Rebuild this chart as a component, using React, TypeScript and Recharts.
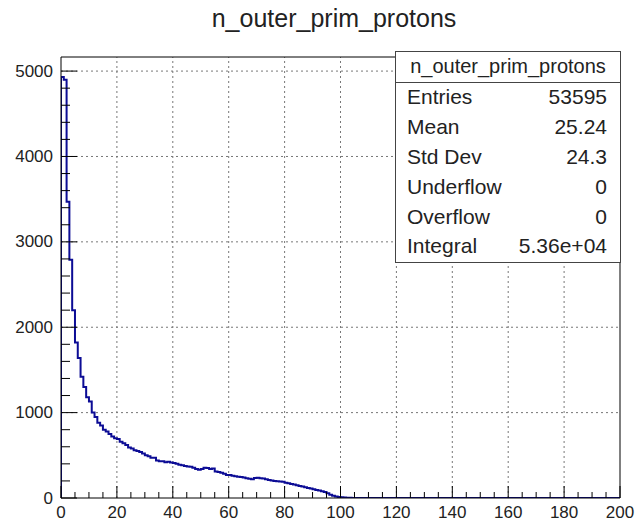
import React from "react";
import {
  ComposedChart,
  Line,
  XAxis,
  YAxis,
  ReferenceLine,
} from "recharts";

// ---- data (histogram bin contents, bin width 1, range 0..200) ----
const HIST_TITLE = "n_outer_prim_protons";
const BIN_LOW = 0;
const BIN_HIGH = 200;
// counts of bins 0..105; remaining bins up to 200 are empty
const binCounts: number[] = [
  4930, 4900, 3470, 2790, 2200, 1820, 1640, 1420, 1300, 1180,
  1130, 1000, 950, 880, 850, 800, 780, 750, 720, 700,
  690, 660, 640, 620, 590, 580, 560, 550, 540, 520,
  500, 490, 470, 470, 440, 430, 430, 420, 425, 415,
  410, 400, 390, 385, 375, 370, 365, 355, 340, 330,
  340, 355, 350, 340, 345, 310, 305, 295, 285, 270,
  268, 262, 255, 250, 245, 240, 232, 225, 220, 235,
  238, 232, 228, 220, 212, 205, 200, 195, 192, 190,
  180, 172, 165, 158, 150, 142, 135, 125, 118, 110,
  102, 95, 88, 78, 70, 55, 38, 25, 18, 12,
  8, 5, 3, 2, 1, 1,
];
const xMajorTicks = [0, 20, 40, 60, 80, 100, 120, 140, 160, 180, 200];
const yMajorTicks = [0, 1000, 2000, 3000, 4000, 5000];
const Y_MAX = 5165;

const statsLabels = ["Entries", "Mean", "Std Dev", "Underflow", "Overflow", "Integral"];
const statsValues = ["53595", "25.24", "24.3", "0", "0", "5.36e+04"];

// ---- build the table the library needs ----
const histData: { x: number; y: number }[] = [{ x: BIN_LOW, y: 0 }];
for (let i = BIN_LOW; i < BIN_HIGH; i++) {
  histData.push({ x: i, y: binCounts[i] ?? 0 });
}
histData.push({ x: BIN_HIGH, y: binCounts[BIN_HIGH - 1] ?? 0 });

const xAllTicks: number[] = [];
for (let v = BIN_LOW; v <= BIN_HIGH; v += 5) xAllTicks.push(v);
const yAllTicks: number[] = [];
for (let v = 0; v <= 5000; v += 200) yAllTicks.push(v);

const FONT = "'Liberation Sans', Arial, Helvetica, sans-serif";
const W = 636;
const H = 523;

const XTick = (props: any) => {
  const { x, y, payload } = props;
  const v = payload.value as number;
  const major = v % 20 === 0;
  return (
    <g>
      <line x1={x} x2={x} y1={y} y2={y - (major ? 12 : 6)} stroke="#000" strokeWidth={1} />
      {major && (
        <text
          x={x}
          y={y + 14}
          textAnchor="middle"
          dominantBaseline="central"
          fontSize={17}
          fontFamily={FONT}
          fill="#222"
        >
          {v}
        </text>
      )}
    </g>
  );
};

const YTick = (props: any) => {
  const { x, y, payload } = props;
  const v = payload.value as number;
  const major = v % 1000 === 0;
  return (
    <g>
      <line x1={x} x2={x + (major ? 16 : 9)} y1={y} y2={y} stroke="#000" strokeWidth={1} />
      {major && (
        <text
          x={x - 8}
          y={y}
          textAnchor="end"
          dominantBaseline="central"
          fontSize={17}
          fontFamily={FONT}
          fill="#222"
        >
          {v}
        </text>
      )}
    </g>
  );
};

export default function App() {
  const statBaselines = [104, 134, 164, 194, 224, 253];
  return (
    <div style={{ position: "absolute", left: 0, top: 0, width: W, height: H, background: "#fff" }}>
      <ComposedChart
        width={W}
        height={H}
        data={histData}
        margin={{ top: 57, right: 16, bottom: 0, left: 11 }}
      >
        <XAxis
          dataKey="x"
          type="number"
          domain={[BIN_LOW, BIN_HIGH]}
          ticks={xAllTicks}
          interval={0}
          height={25}
          tickLine={false}
          tickSize={0}
          tickMargin={0}
          axisLine={{ stroke: "#000", strokeWidth: 1 }}
          tick={<XTick />}
          allowDataOverflow
        />
        <YAxis
          type="number"
          domain={[0, Y_MAX]}
          ticks={yAllTicks}
          interval={0}
          width={50}
          tickLine={false}
          tickSize={0}
          tickMargin={0}
          axisLine={{ stroke: "#000", strokeWidth: 1 }}
          tick={<YTick />}
          allowDataOverflow
        />
        {xMajorTicks.slice(1, -1).map((v) => (
          <ReferenceLine key={"gx" + v} x={v} stroke="#777" strokeDasharray="2 3" />
        ))}
        {yMajorTicks.slice(1).map((v) => (
          <ReferenceLine key={"gy" + v} y={v} stroke="#777" strokeDasharray="2 3" />
        ))}
        <ReferenceLine y={Y_MAX} stroke="#000" />
        <ReferenceLine x={BIN_HIGH} stroke="#000" />
        <Line
          dataKey="y"
          type="stepAfter"
          stroke="#0c0c95"
          strokeWidth={2}
          dot={false}
          activeDot={false}
          isAnimationActive={false}
        />
      </ComposedChart>
      <svg
        width={W}
        height={H}
        style={{ position: "absolute", left: 0, top: 0, pointerEvents: "none" }}
      >
        <text x={334} y={27} textAnchor="middle" fontSize={25} fontFamily={FONT} fill="#222">
          {HIST_TITLE}
        </text>
        <rect x={395.5} y={51.5} width={225} height={211} fill="#fff" stroke="#444" strokeWidth={1} />
        <line x1={395.5} x2={620.5} y1={82.5} y2={82.5} stroke="#444" strokeWidth={1} />
        <text x={508} y={73} textAnchor="middle" fontSize={20} fontFamily={FONT} fill="#222">
          {HIST_TITLE}
        </text>
        {statsLabels.map((lab, i) => (
          <g key={lab}>
            <text x={407} y={statBaselines[i]} fontSize={21} fontFamily={FONT} fill="#222">
              {lab}
            </text>
            <text x={607} y={statBaselines[i]} textAnchor="end" fontSize={21} fontFamily={FONT} fill="#222">
              {statsValues[i]}
            </text>
          </g>
        ))}
      </svg>
    </div>
  );
}
